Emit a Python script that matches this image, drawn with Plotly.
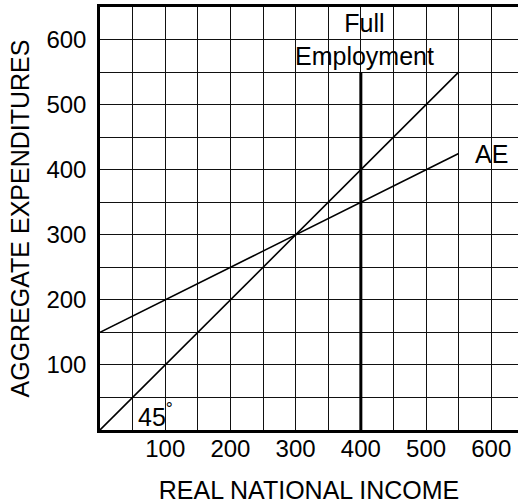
import plotly.graph_objects as go

# Income levels (x) and the two schedules
income = [0, 550]
line_45 = [0, 550]          # 45-degree line: expenditures = income
ae_values = [150, 425]      # aggregate expenditures schedule
full_employment_income = 400
full_employment_top = 550

tick_vals = [100, 200, 300, 400, 500, 600]
tick_text = ["100", "200", "300", "400", "500", "600"]

FONT = "Liberation Sans, Arial, sans-serif"
TICK_SIZE = 24
TEXT_SIZE = 25

fig = go.Figure()

fig.add_trace(go.Scatter(x=income, y=line_45, mode="lines",
                         line=dict(color="black", width=1.6),
                         hoverinfo="skip", showlegend=False))
fig.add_trace(go.Scatter(x=income, y=ae_values, mode="lines",
                         line=dict(color="black", width=1.6),
                         hoverinfo="skip", showlegend=False))
fig.add_trace(go.Scatter(x=[full_employment_income, full_employment_income],
                         y=[0, full_employment_top], mode="lines",
                         line=dict(color="black", width=3),
                         hoverinfo="skip", showlegend=False))

annotations = [
    dict(x=full_employment_income, y=full_employment_top, text="Full<br>Employment",
         showarrow=False, xanchor="center", yanchor="bottom", xshift=4, yshift=0,
         font=dict(size=TEXT_SIZE, color="black", family=FONT)),
    dict(x=income[1], y=ae_values[1], text="AE",
         showarrow=False, xanchor="left", yanchor="middle", xshift=14, yshift=-1,
         font=dict(size=TEXT_SIZE, color="black", family=FONT)),
    dict(x=55, y=23, text="45<sup>°</sup>",
         showarrow=False, xanchor="left", yanchor="middle",
         font=dict(size=TEXT_SIZE, color="black", family=FONT)),
]

axis_common = dict(
    showgrid=True, gridcolor="#111111", gridwidth=1.2,
    showline=True, linecolor="black", linewidth=2.5,
    ticks="", zeroline=False,
    tickfont=dict(size=TICK_SIZE, color="black", family=FONT),
    minor=dict(dtick=50, showgrid=True, gridcolor="#111111", gridwidth=1.2),
    tickmode="array", tickvals=tick_vals, ticktext=tick_text,
)

fig.update_layout(
    width=518, height=504,
    margin=dict(l=100, r=0, t=7, b=74),
    paper_bgcolor="white", plot_bgcolor="white",
    xaxis=dict(range=[0, 641], mirror=True, ticklabelstandoff=-5,
               title=dict(text="REAL NATIONAL INCOME", standoff=23,
                          font=dict(size=TEXT_SIZE, color="black", family=FONT)),
               **axis_common),
    yaxis=dict(range=[0, 650], mirror=False, ticklabelstandoff=6,
               title=dict(text="AGGREGATE EXPENDITURES", standoff=10,
                          font=dict(size=TEXT_SIZE, color="black", family=FONT)),
               **axis_common),
    annotations=annotations,
)

fig.write_html("out.html")
